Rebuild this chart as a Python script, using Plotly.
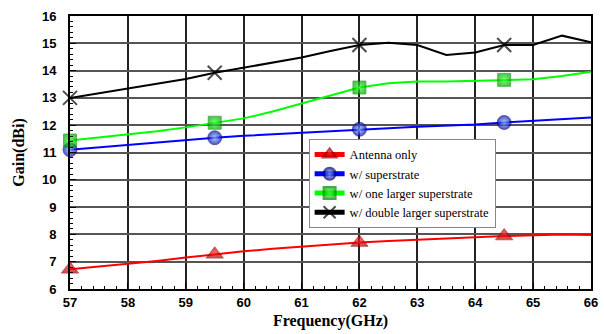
import plotly.graph_objects as go

freq = [57, 57.5, 58, 58.5, 59, 59.5, 60, 60.5, 61, 61.5, 62, 62.5, 63, 63.5, 64, 64.5, 65, 65.5, 66]
antenna_only = [6.72, 6.82, 6.92, 7.03, 7.15, 7.27, 7.38, 7.47, 7.55, 7.63, 7.70, 7.76, 7.81, 7.87, 7.90, 7.94, 7.98, 8.00, 7.98]
superstrate = [11.10, 11.19, 11.27, 11.36, 11.45, 11.54, 11.61, 11.67, 11.72, 11.79, 11.85, 11.89, 11.94, 11.98, 12.03, 12.10, 12.16, 12.22, 12.28]
one_larger = [11.44, 11.55, 11.65, 11.78, 11.92, 12.09, 12.25, 12.50, 12.80, 13.10, 13.38, 13.54, 13.60, 13.60, 13.63, 13.66, 13.68, 13.80, 13.96]
double_larger = [13.00, 13.17, 13.33, 13.50, 13.69, 13.92, 14.10, 14.30, 14.48, 14.72, 14.94, 15.02, 14.94, 14.57, 14.66, 14.94, 14.94, 15.28, 15.04]
marker_freqs = [57, 59.5, 62, 64.5]

series = [
    # name, values, line colour, symbol, marker colour, gradient centre, outline, size
    ("Antenna only", antenna_only, "#ff0000", "triangle-up", "#b00000", "#ff2020", "#900000", 15),
    ("w/ superstrate", superstrate, "#0000ff", "circle", "#0000b0", "#8ec4ff", "#000070", 14),
    ("w/ one larger superstrate", one_larger, "#00ff00", "square", "#00b000", "#40ff40", "#008000", 13),
    ("w/ double larger superstrate", double_larger, "#000000", "x-thin-open", "#000000", None, "#000000", 14),
]

fig = go.Figure()
for name, vals, lc, sym, mc, gc, oc, ms in series:
    sizes = [ms if f in marker_freqs else 0 for f in freq]
    marker = dict(symbol=sym, size=sizes, color=mc,
                  line=dict(color=oc, width=2 if sym == "x-thin-open" else 0.8))
    if gc:
        marker["gradient"] = dict(type="radial", color=gc)
    fig.add_trace(go.Scatter(
        x=freq, y=vals, name=name, mode="lines+markers",
        line=dict(color=lc, width=2),
        marker=marker, cliponaxis=False,
    ))

axis_common = dict(
    showline=True, linecolor="black", linewidth=2, mirror=True,
    ticks="inside", ticklen=6, tickcolor="black",
    showgrid=True, gridwidth=1.5, zeroline=False,
    tickfont=dict(family="Arial", size=13, color="black", weight="bold"),
)

fig.update_xaxes(
    range=[57, 66], dtick=1, gridcolor="#222222",
    minor=dict(dtick=0.2, ticks="inside", ticklen=3, tickcolor="black", showgrid=False),
    title=dict(text="Frequency(GHz)", font=dict(family="Times New Roman", size=16, color="black", weight="bold"), standoff=6),
    **axis_common,
)
fig.update_yaxes(
    range=[6, 16], dtick=1, gridcolor="#555555",
    minor=dict(dtick=0.2, ticks="inside", ticklen=3, tickcolor="black", showgrid=False),
    ticklabelstandoff=9,
    title=dict(text="Gain(dBi)", font=dict(family="Times New Roman", size=16, color="black", weight="bold"), standoff=13),
    **axis_common,
)

fig.update_layout(
    width=604, height=334,
    margin=dict(l=70, r=6, t=16, b=45),
    paper_bgcolor="white", plot_bgcolor="white",
    showlegend=True,
    legend=dict(
        x=0.458, y=0.55, xanchor="left", yanchor="top",
        bgcolor="white", bordercolor="#888888", borderwidth=1,
        font=dict(family="Times New Roman", size=12.5, color="black"),
        itemsizing="constant", itemwidth=30,
    ),
)

fig.write_html("out.html", config={"displayModeBar": False},
               post_script="document.body.style.margin='0';")
